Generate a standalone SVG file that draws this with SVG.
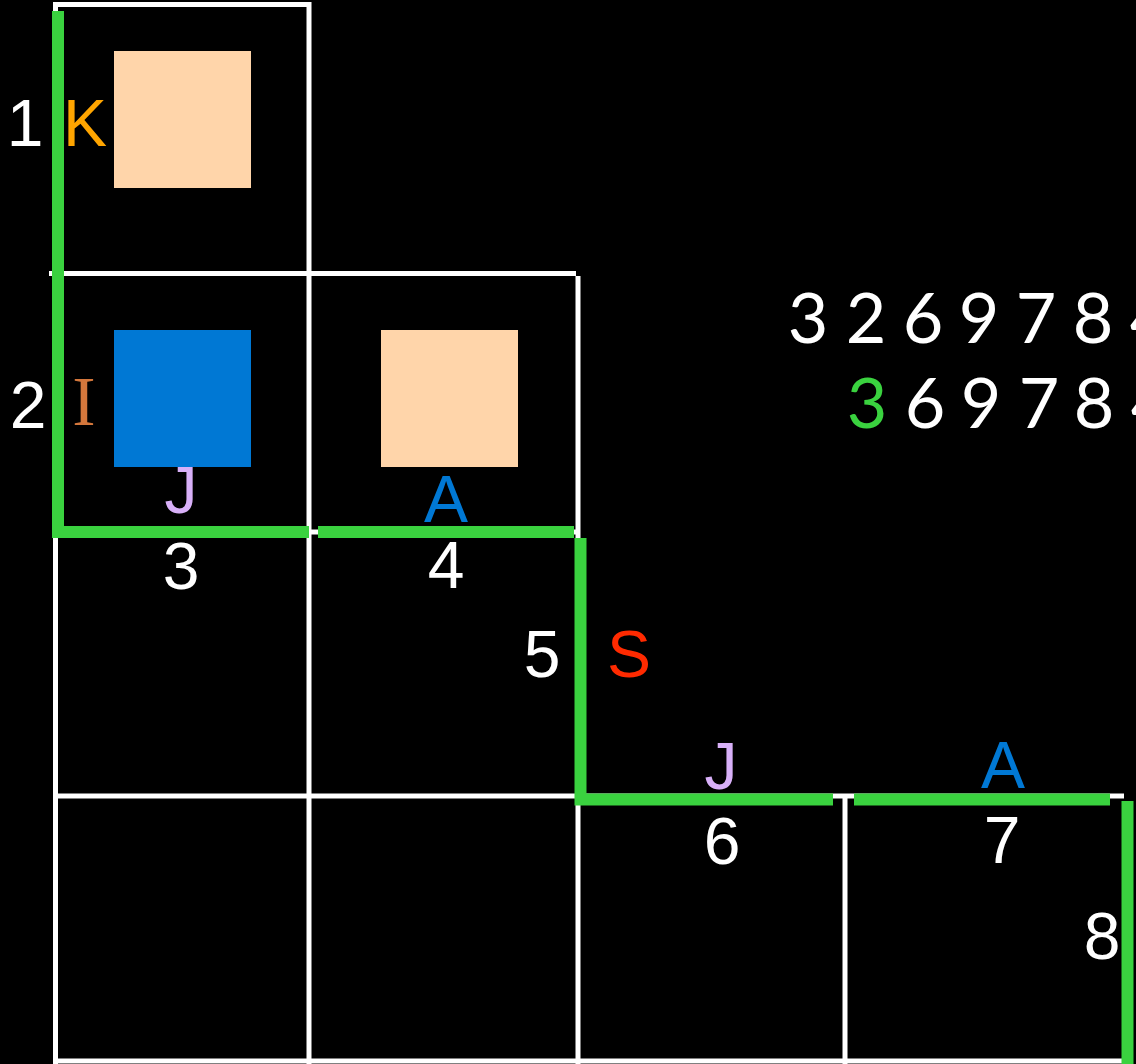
<svg xmlns="http://www.w3.org/2000/svg" width="1136" height="1064" viewBox="0 0 1136 1064">
<style>
.grid{stroke:#ffffff;stroke-width:5;fill:none}
.path{stroke:#3ad23f;stroke-width:12;fill:none;stroke-linecap:butt;stroke-linejoin:miter}
.lbl{font-family:"Liberation Sans",Arial,sans-serif;font-size:66px;text-anchor:middle}
.num{font-family:Lato,"Open Sans",sans-serif;font-size:70px;text-anchor:middle;fill:#ffffff}
.num.g{fill:#3ad23f}
.w{fill:#ffffff}
</style>
<rect width="1136" height="1064" fill="#000000"/>
<g id="grid" class="grid">
<line x1="53" y1="4.5" x2="311" y2="4.5"/>
<line x1="309" y1="2" x2="309" y2="1064"/>
<line x1="49" y1="273.5" x2="576" y2="273.5"/>
<line x1="578" y1="276" x2="578" y2="1064"/>
<line x1="55" y1="532" x2="578" y2="532"/>
<line x1="55.5" y1="4" x2="55.5" y2="1064"/>
<line x1="55" y1="796" x2="1124" y2="796"/>
<line x1="845" y1="798" x2="845" y2="1064"/>
<line x1="55" y1="1061" x2="1125" y2="1061"/>
</g>
<g id="cell-1">
<rect x="114" y="51" width="137" height="137" fill="#ffd5aa"/>
<text class="lbl w" x="25" y="146">1</text>
<text class="lbl" x="85" y="146" fill="#ffa500">K</text>
</g>
<g id="cell-2">
<rect x="114" y="330" width="137" height="137" fill="#0078d4"/>
<text class="lbl w" x="28" y="428">2</text>
<text x="84" y="425" font-family="'Liberation Serif','Times New Roman',serif" font-size="70" text-anchor="middle" fill="#d4773c">I</text>
<text class="lbl" x="181" y="513" fill="#d8b0f8">J</text>
</g>
<g id="cell-3">
<text class="lbl w" x="181" y="589">3</text>
</g>
<g id="cell-4">
<rect x="381" y="330" width="137" height="137" fill="#ffd5aa"/>
<text class="lbl" x="446" y="522" fill="#0078d4">A</text>
<text class="lbl w" x="446" y="588">4</text>
</g>
<g id="cell-5">
<text class="lbl w" x="542" y="677">5</text>
<text class="lbl" x="629" y="677" fill="#ff2a00">S</text>
<text class="lbl" x="721" y="789" fill="#d8b0f8">J</text>
<text class="lbl" x="1003" y="788" fill="#0078d4">A</text>
</g>
<g id="cell-6">
<text class="lbl w" x="722" y="864">6</text>
</g>
<g id="cell-7">
<text class="lbl w" x="1002" y="863">7</text>
</g>
<g id="cell-8">
<text class="lbl w" x="1102" y="959">8</text>
</g>
<g id="connectors" class="path">
<path d="M58 11 V532 H309"/>
<line x1="318" y1="532" x2="574" y2="532"/>
<path d="M580.5 538 V799.5 H833"/>
<line x1="854" y1="799.5" x2="1110" y2="799.5"/>
<line x1="1127.5" y1="801" x2="1127.5" y2="1064"/>
</g>
<g id="sequence">
<text class="num" x="808 866 923 979 1036 1093 1150" y="343">3269784</text>
<text class="num g" x="867" y="428">3</text>
<text class="num" x="925 981 1039 1094 1151" y="428">69784</text>
</g>
</svg>
